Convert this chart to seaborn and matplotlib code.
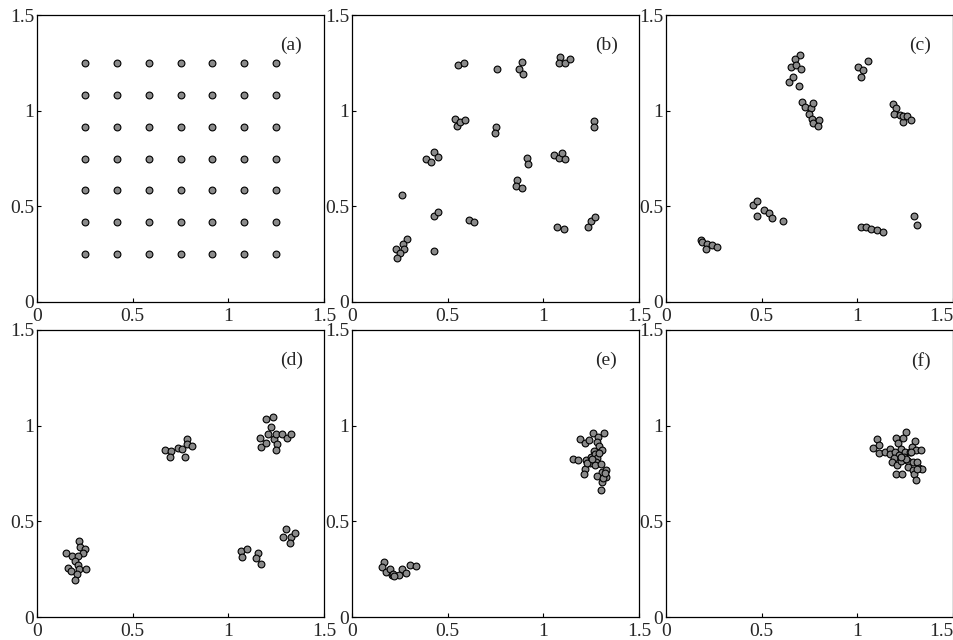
import matplotlib.pyplot as plt
import pandas as pd
import seaborn as sns

# grid values of panel (a)
grid_vals = [0.25, 0.417, 0.583, 0.75, 0.917, 1.083, 1.25]

b_x = [0.555, 0.584, 0.760, 0.891, 0.872, 0.893, 1.085, 1.081, 1.113, 1.137,
       0.539, 0.548, 0.567, 0.588, 0.755, 0.750, 1.266, 1.263,
       0.387, 0.415, 0.427, 0.447, 1.055, 1.081, 1.097, 1.113, 0.916, 0.919,
       0.860, 0.858, 0.888, 0.262,
       0.431, 0.452, 0.614, 0.640, 1.074, 1.106, 1.235, 1.251, 1.268,
       0.290, 0.269, 0.272, 0.228, 0.249, 0.234, 0.429]
b_y = [1.239, 1.251, 1.220, 1.253, 1.217, 1.192, 1.279, 1.250, 1.250, 1.272,
       0.958, 0.918, 0.940, 0.949, 0.914, 0.885, 0.944, 0.913,
       0.749, 0.732, 0.784, 0.760, 0.768, 0.753, 0.777, 0.749, 0.751, 0.721,
       0.638, 0.608, 0.596, 0.560,
       0.447, 0.469, 0.429, 0.419, 0.391, 0.381, 0.393, 0.421, 0.445,
       0.329, 0.304, 0.276, 0.276, 0.254, 0.229, 0.264]

c_x = [0.699, 0.674, 0.654, 0.681, 0.706, 0.645, 0.666, 0.697,
       0.709, 0.728, 0.758, 0.768, 0.749, 0.765, 0.768, 0.798, 0.796,
       1.003, 1.029, 1.020, 1.057,
       1.184, 1.203, 1.194, 1.225, 1.239, 1.239, 1.257, 1.281,
       0.454, 0.475, 0.478, 0.511, 0.537, 0.553, 0.612,
       0.184, 0.186, 0.212, 0.207, 0.238, 0.268,
       1.017, 1.046, 1.074, 1.104, 1.132, 1.298, 1.311]
c_y = [1.289, 1.268, 1.226, 1.237, 1.217, 1.151, 1.174, 1.130,
       1.043, 1.017, 1.015, 1.041, 0.984, 0.958, 0.933, 0.949, 0.921,
       1.226, 1.212, 1.176, 1.261,
       1.036, 1.012, 0.984, 0.979, 0.940, 0.972, 0.972, 0.952,
       0.509, 0.530, 0.450, 0.480, 0.467, 0.438, 0.424,
       0.323, 0.316, 0.302, 0.277, 0.297, 0.288,
       0.391, 0.394, 0.384, 0.375, 0.365, 0.450, 0.401]

d_x = [0.222, 0.226, 0.250, 0.240, 0.151, 0.182, 0.214, 0.201, 0.215, 0.161,
       0.179, 0.219, 0.254, 0.207, 0.196,
       0.669, 0.700, 0.695, 0.735, 0.760, 0.774, 0.786, 0.786, 0.810,
       1.199, 1.231, 1.225, 1.209, 1.168, 1.173, 1.199, 1.238, 1.248, 1.255,
       1.248, 1.281, 1.308, 1.330,
       1.064, 1.096, 1.071, 1.155, 1.147, 1.171, 1.299, 1.286, 1.325, 1.323, 1.350]
d_y = [0.396, 0.366, 0.354, 0.333, 0.337, 0.321, 0.321, 0.295, 0.274, 0.255,
       0.241, 0.249, 0.249, 0.225, 0.195,
       0.874, 0.865, 0.836, 0.883, 0.879, 0.836, 0.931, 0.902, 0.893,
       1.036, 1.043, 0.992, 0.956, 0.937, 0.888, 0.912, 0.928, 0.956, 0.905,
       0.874, 0.956, 0.937, 0.956,
       0.345, 0.354, 0.316, 0.337, 0.309, 0.279, 0.462, 0.420, 0.420, 0.389, 0.438]

e_x = [0.166, 0.159, 0.180, 0.197, 0.208, 0.216, 0.248, 0.262, 0.281, 0.302,
       0.333, 0.218,
       1.191, 1.216, 1.240, 1.261, 1.286, 1.317, 1.279, 1.289, 1.305, 1.265,
       1.155, 1.183, 1.221, 1.247, 1.268, 1.282, 1.275, 1.244, 1.216, 1.211,
       1.268, 1.300, 1.305, 1.329, 1.282, 1.327, 1.306, 1.299, 1.313,
       1.230, 1.291, 1.320, 1.256]
e_y = [0.287, 0.259, 0.234, 0.250, 0.217, 0.224, 0.222, 0.250, 0.231, 0.273,
       0.269, 0.213,
       0.930, 0.909, 0.925, 0.962, 0.942, 0.963, 0.913, 0.892, 0.874, 0.869,
       0.827, 0.820, 0.822, 0.836, 0.850, 0.832, 0.811, 0.804, 0.776, 0.745,
       0.794, 0.799, 0.760, 0.769, 0.738, 0.734, 0.706, 0.666, 0.726,
       0.804, 0.857, 0.752, 0.825]

f_x = [1.101, 1.113, 1.081, 1.111, 1.142, 1.170, 1.170, 1.200, 1.214, 1.240,
       1.254, 1.226, 1.198, 1.219, 1.191, 1.181, 1.205, 1.226, 1.247, 1.244,
       1.275, 1.300, 1.287, 1.305, 1.331, 1.282, 1.265, 1.293, 1.314, 1.265,
       1.289, 1.322, 1.338, 1.296, 1.308, 1.204, 1.232, 1.253, 1.230, 1.314]
f_y = [0.932, 0.897, 0.883, 0.858, 0.860, 0.879, 0.851, 0.937, 0.911, 0.935,
       0.965, 0.879, 0.862, 0.848, 0.830, 0.808, 0.792, 0.813, 0.862, 0.836,
       0.862, 0.918, 0.890, 0.871, 0.871, 0.862, 0.815, 0.809, 0.809, 0.783,
       0.767, 0.778, 0.771, 0.747, 0.717, 0.750, 0.747, 0.827, 0.836, 0.774]

labels = ["(a)", "(b)", "(c)", "(d)", "(e)", "(f)"]
ticks = [0, 0.5, 1, 1.5]
tick_labels = ["0", "0.5", "1", "1.5"]

a_x = [gx for gy in grid_vals for gx in grid_vals]
a_y = [gy for gy in grid_vals for gx in grid_vals]

panels = [(a_x, a_y), (b_x, b_y), (c_x, c_y), (d_x, d_y), (e_x, e_y), (f_x, f_y)]

sns.set_style("ticks", {"xtick.direction": "in", "ytick.direction": "in"})
plt.rcParams['font.family'] = ['Liberation Serif', 'DejaVu Serif']

fig = plt.figure(figsize=(9.54, 6.4), dpi=100)

# axes boxes in pixels: left, top, width, height
col_left = [37, 352, 666]
row_top = [15, 330]
w_px, h_px = 287, 287

for i, (px, py) in enumerate(panels):
    r, c = divmod(i, 3)
    ax = fig.add_axes([col_left[c] / 954, 1 - (row_top[r] + h_px) / 640,
                       w_px / 954, h_px / 640])
    df = pd.DataFrame({"x": px, "y": py})
    sns.scatterplot(data=df, x="x", y="y", ax=ax, color="#8a8a8a",
                    edgecolor="black", linewidth=0.8, s=24, zorder=3)
    ax.set_xlim(0, 1.5)
    ax.set_ylim(0, 1.5)
    ax.set_xticks(ticks)
    ax.set_yticks(ticks)
    ax.set_xticklabels(tick_labels)
    ax.set_yticklabels(tick_labels)
    ax.tick_params(labelsize=14, length=3, width=0.8, color="black")
    ax.tick_params(axis="x", pad=4)
    ax.tick_params(axis="y", pad=2)
    if c == 2:
        # keep the last label inside the figure
        ax.get_xticklabels()[-1].set_horizontalalignment("right")
    ax.set_xlabel("")
    ax.set_ylabel("")
    for sp in ax.spines.values():
        sp.set_visible(True)
        sp.set_linewidth(0.9)
        sp.set_color("black")
    ax.text(1.33, 1.34, labels[i], fontsize=14, ha="center", va="center")

fig.savefig("out.png", dpi=100)
